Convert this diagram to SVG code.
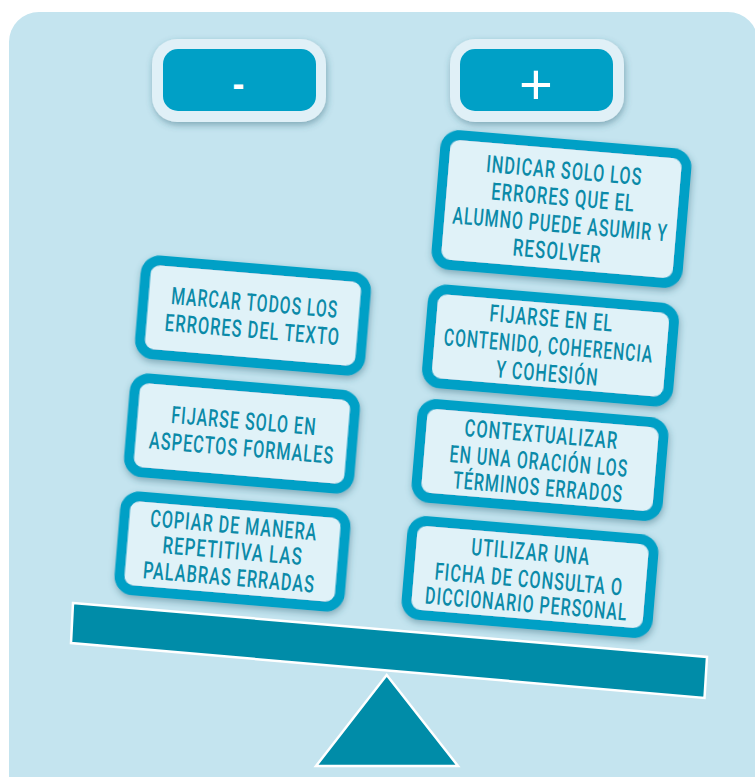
<svg xmlns="http://www.w3.org/2000/svg" width="755" height="777" viewBox="0 0 755 777">
  <defs>
    <filter id="shadow" x="-20%" y="-25%" width="140%" height="160%">
      <feDropShadow dx="1" dy="3" stdDeviation="3.5" flood-color="#2f6475" flood-opacity="0.45"/>
    </filter>
    <style>
      .panel { fill: #c4e4ef; }
      .card { fill: #e0f2f8; stroke: #00a0c6; stroke-width: 10; }
      .card-text { font-family: Roboto, "Liberation Sans", sans-serif; font-size: 24px; font-weight: 500; letter-spacing: 1.5px; fill: #0b8aa8; text-anchor: middle; }
      .head-outer { fill: #e0f0f7; }
      .head-inner { fill: #00a0c6; }
      .head-sign { font-family: "Liberation Sans", Arial, sans-serif; fill: #ffffff; text-anchor: middle; }
      .scale-part { fill: #008ca8; stroke: #ffffff; stroke-width: 2.5; stroke-linejoin: miter; }
    </style>
  </defs>

  <!-- background -->
  <rect width="755" height="777" fill="#ffffff"/>
  <rect class="panel" x="9" y="12" width="749" height="800" rx="30" ry="30"/>

  <!-- column headers -->
  <g id="minus-header">
    <rect class="head-outer" x="152" y="39" width="174" height="83" rx="25" filter="url(#shadow)"/>
    <rect class="head-inner" x="163" y="49" width="153" height="62" rx="15"/>
    <text class="head-sign" x="238.5" y="95.5" font-size="36" font-weight="bold">-</text>
  </g>
  <g id="plus-header">
    <rect class="head-outer" x="450" y="39" width="174" height="83" rx="25" filter="url(#shadow)"/>
    <rect class="head-inner" x="460" y="49" width="153" height="62" rx="15"/>
    <text class="head-sign" x="536" y="104" font-size="58">+</text>
  </g>

  <!-- balance beam and fulcrum -->
  <g id="scale">
    <polygon class="scale-part" points="73,603 707,657 704.5,698 71,643"/>
    <polygon class="scale-part" points="386.7,675 458,766 316,766"/>
  </g>

  <!-- right pan ("+") -->
  <g id="card-indicar" transform="translate(561.5,209) rotate(4.8)">
    <rect class="card" x="-121" y="-65" width="242" height="130" rx="14" filter="url(#shadow)"/>
    <text class="card-text" x="-0.3" y="-30.5" textLength="156.5" lengthAdjust="spacingAndGlyphs">INDICAR SOLO LOS</text>
    <text class="card-text" x="0.7" y="-3.5" textLength="144" lengthAdjust="spacingAndGlyphs">ERRORES QUE EL</text>
    <text class="card-text" x="0" y="23.5" textLength="216" lengthAdjust="spacingAndGlyphs">ALUMNO PUEDE ASUMIR Y</text>
    <text class="card-text" x="-0.7" y="50.5" textLength="89" lengthAdjust="spacingAndGlyphs">RESOLVER</text>
  </g>

  <g id="card-fijarse-contenido" transform="translate(550.5,345.5) rotate(4.8)">
    <rect class="card" x="-121" y="-47" width="242" height="94" rx="14" filter="url(#shadow)"/>
    <text class="card-text" x="-1.3" y="-19" textLength="124" lengthAdjust="spacingAndGlyphs">FIJARSE EN EL</text>
    <text class="card-text" x="-1.8" y="8.6" textLength="210" lengthAdjust="spacingAndGlyphs">CONTENIDO, COHERENCIA</text>
    <text class="card-text" x="-0.8" y="36.2" textLength="102.5" lengthAdjust="spacingAndGlyphs">Y COHESIÓN</text>
  </g>

  <g id="card-contextualizar" transform="translate(540,460) rotate(4.8)">
    <rect class="card" x="-121" y="-47" width="242" height="94" rx="14" filter="url(#shadow)"/>
    <text class="card-text" x="-0.7" y="-17.5" textLength="154" lengthAdjust="spacingAndGlyphs">CONTEXTUALIZAR</text>
    <text class="card-text" x="-0.9" y="9.6" textLength="179" lengthAdjust="spacingAndGlyphs">EN UNA ORACIÓN LOS</text>
    <text class="card-text" x="0.4" y="35.4" textLength="170.5" lengthAdjust="spacingAndGlyphs">TÉRMINOS ERRADOS</text>
  </g>

  <g id="card-utilizar" transform="translate(530,577) rotate(4.8)">
    <rect class="card" x="-121" y="-47" width="242" height="94" rx="14" filter="url(#shadow)"/>
    <text class="card-text" x="-1.3" y="-16.9" textLength="119" lengthAdjust="spacingAndGlyphs">UTILIZAR UNA</text>
    <text class="card-text" x="-0.8" y="10.6" textLength="189" lengthAdjust="spacingAndGlyphs">FICHA DE CONSULTA O</text>
    <text class="card-text" x="-1.3" y="35.3" textLength="203" lengthAdjust="spacingAndGlyphs">DICCIONARIO PERSONAL</text>
  </g>

  <!-- left pan ("-") -->
  <g id="card-marcar" transform="translate(253,315.5) rotate(4.8)">
    <rect class="card" x="-110.5" y="-47" width="221" height="94" rx="14" filter="url(#shadow)"/>
    <text class="card-text" x="0.7" y="-4.7" textLength="167.5" lengthAdjust="spacingAndGlyphs">MARCAR TODOS LOS</text>
    <text class="card-text" x="0.7" y="22.5" textLength="175.5" lengthAdjust="spacingAndGlyphs">ERRORES DEL TEXTO</text>
  </g>

  <g id="card-fijarse-formales" transform="translate(242,433.5) rotate(4.8)">
    <rect class="card" x="-110.5" y="-47" width="221" height="94" rx="14" filter="url(#shadow)"/>
    <text class="card-text" x="0.9" y="-4.5" textLength="145.5" lengthAdjust="spacingAndGlyphs">FIJARSE SOLO EN</text>
    <text class="card-text" x="0.9" y="22.6" textLength="185.5" lengthAdjust="spacingAndGlyphs">ASPECTOS FORMALES</text>
  </g>

  <g id="card-copiar" transform="translate(232.5,551.5) rotate(4.8)">
    <rect class="card" x="-110.5" y="-47" width="221" height="94" rx="14" filter="url(#shadow)"/>
    <text class="card-text" x="-0.8" y="-18.1" textLength="167.5" lengthAdjust="spacingAndGlyphs">COPIAR DE MANERA</text>
    <text class="card-text" x="0.2" y="7.6" textLength="140.5" lengthAdjust="spacingAndGlyphs">REPETITIVA LAS</text>
    <text class="card-text" x="-1.3" y="34.1" textLength="172.5" lengthAdjust="spacingAndGlyphs">PALABRAS ERRADAS</text>
  </g>
</svg>
